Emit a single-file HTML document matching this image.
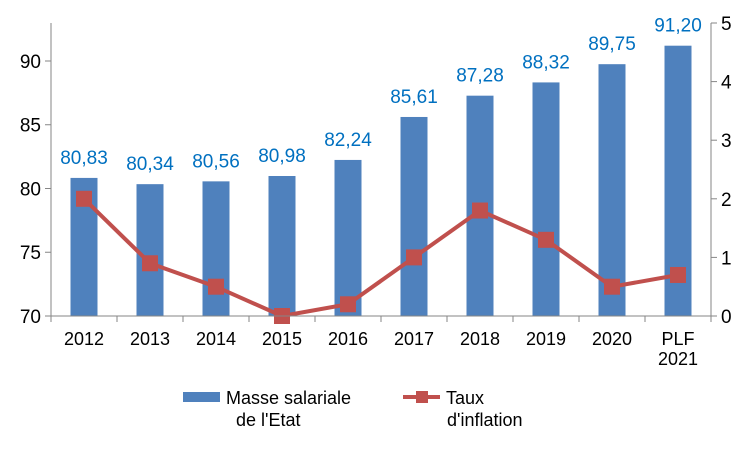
<!DOCTYPE html>
<html><head><meta charset="utf-8"><style>
body{margin:0;background:#fff;font-family:"Liberation Sans",Arial,sans-serif}
</style></head><body>
<svg id="chart" width="751" height="450" xmlns="http://www.w3.org/2000/svg" font-family="Liberation Sans, Arial, sans-serif">
<g id="grid"></g>
<g id="bars"></g>
<g id="line"></g>
<g id="axes"></g>
<g>
<rect x="183" y="392" width="37" height="10" fill="#4f81bd"/>
<text x="226" y="404" font-size="18">Masse salariale</text>
<text x="236" y="426" font-size="18">de l'Etat</text>
<line x1="403" y1="397" x2="440" y2="397" stroke="#c0504d" stroke-width="4"/>
<rect x="416" y="391" width="12" height="12" fill="#c0504d"/>
<text x="446" y="404" font-size="18">Taux</text>
<text x="447" y="426" font-size="18">d'inflation</text>
</g>
</svg>
<script>
const categories=["2012","2013","2014","2015","2016","2017","2018","2019","2020","PLF|2021"];
const masse=[80.83,80.34,80.56,80.98,82.24,85.61,87.28,88.32,89.75,91.20];
const inflation=[2.0,0.9,0.5,0.0,0.2,1.0,1.8,1.3,0.5,0.7];
const leftTicks=[70,75,80,85,90];
const rightTicks=[0,1,2,3,4,5];
const NS="http://www.w3.org/2000/svg";
const x0=51,x1=711,yBot=316,yTop=23;
const bw=(x1-x0)/categories.length;
const xc=i=>x0+bw*(i+0.5);
const yL=v=>yBot-(v-70)*(yBot-yTop)/(92.98-70);
const yR=v=>yBot-v*(yBot-yTop)/5;
function mk(t,a,p){const e=document.createElementNS(NS,t);for(const k in a)e.setAttribute(k,a[k]);p.appendChild(e);return e;}
const bars=document.getElementById('bars'),line=document.getElementById('line'),axes=document.getElementById('axes');
masse.forEach((v,i)=>{
 const r=mk('rect',{x:xc(i)-13.5,y:yL(v),width:27,height:yBot-yL(v),fill:'#4f81bd'},bars);
 
 
 const t=mk('text',{x:xc(i),y:yL(v)-14,'text-anchor':'middle','font-size':19,fill:'#0070c0'},bars);
 t.textContent=v.toFixed(2).replace('.',',');
 
 
});
const pts=inflation.map((v,i)=>xc(i)+','+yR(v)).join(' ');
const pl=mk('polyline',{points:pts,fill:'none',stroke:'#c0504d','stroke-width':4},line);


inflation.forEach((v,i)=>{
 const m=mk('rect',{x:xc(i)-8,y:yR(v)-8,width:16,height:16,fill:'#c0504d'},line);
 
 
});
const ax=mk('path',{d:`M${x0},${yTop}V${yBot}H${x1}V${yTop}`,fill:'none',stroke:'#868686','stroke-width':1},axes);


leftTicks.forEach(v=>{
 mk('line',{x1:x0-6,x2:x0,y1:yL(v),y2:yL(v),stroke:'#868686'},axes);
 const t=mk('text',{x:x0-10,y:yL(v)+7,'text-anchor':'end','font-size':19},axes);
 t.textContent=v;
 
 
});
rightTicks.forEach(v=>{
 mk('line',{x1:x1,x2:x1+6,y1:yR(v),y2:yR(v),stroke:'#868686'},axes);
 const t=mk('text',{x:x1+10,y:yR(v)+7,'font-size':19},axes);
 t.textContent=v;
 
 
});
categories.forEach((c,i)=>{
 mk('line',{x1:x0+bw*i,x2:x0+bw*i,y1:yBot,y2:yBot+6,stroke:'#868686'},axes);
 c.split('|').forEach((s,j)=>{
  const t=mk('text',{x:xc(i),y:yBot+29+j*20,'text-anchor':'middle','font-size':18},axes);
  t.textContent=s;
  
  
 });
});
mk('line',{x1:x1,x2:x1,y1:yBot,y2:yBot+6,stroke:'#868686'},axes);
</script>
</body></html>
